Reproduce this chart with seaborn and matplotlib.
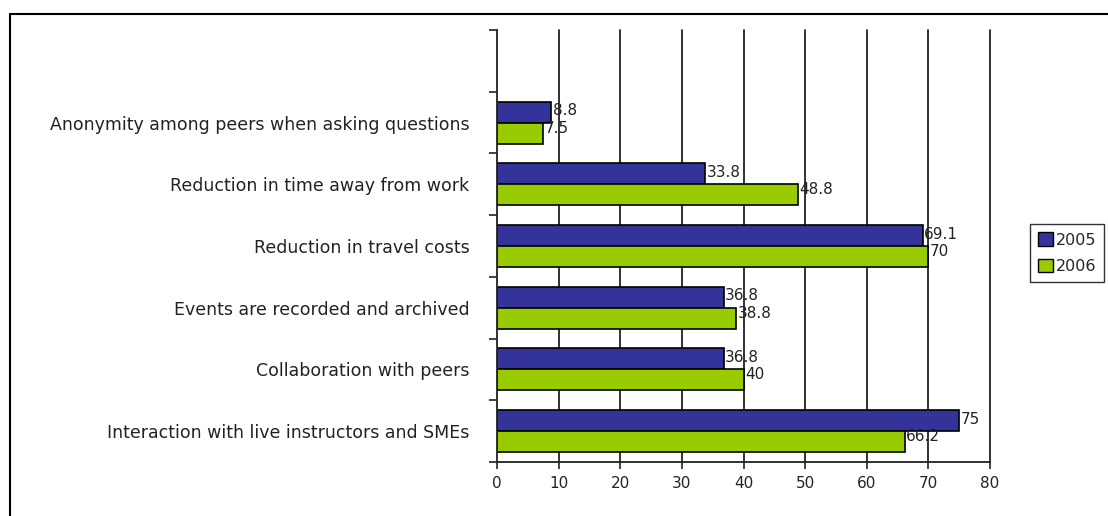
import matplotlib
matplotlib.use('Agg')
import matplotlib.pyplot as plt
import matplotlib.lines as mlines
import matplotlib.patches as mpatches
import pandas as pd
import seaborn as sns

categories = ['Anonymity among peers when asking questions',
              'Reduction in time away from work',
              'Reduction in travel costs',
              'Events are recorded and archived',
              'Collaboration with peers',
              'Interaction with live instructors and SMEs']
values_2005 = [8.8, 33.8, 69.1, 36.8, 36.8, 75]
values_2006 = [7.5, 48.8, 70, 38.8, 40, 66.2]
labels_2005 = ['8.8', '33.8', '69.1', '36.8', '36.8', '75']
labels_2006 = ['7.5', '48.8', '70', '38.8', '40', '66.2']
years = ['2005', '2006']
x_ticks = [0, 10, 20, 30, 40, 50, 60, 70, 80]

df = pd.DataFrame({
    'category': categories * 2,
    'value': values_2005 + values_2006,
    'year': [years[0]] * len(categories) + [years[1]] * len(categories),
})

sns.set_theme(style='white')
plt.rcParams['font.family'] = ['DejaVu Sans']

colors = {'2005': '#333399', '2006': '#99CC00'}
order = [''] + categories

fig = plt.figure(figsize=(11.08, 5.16), dpi=100)
ax = fig.add_axes([0.4486, 0.1047, 0.4449, 0.8372])

sns.barplot(data=df, y='category', x='value', hue='year', order=order,
            hue_order=years, palette=colors, saturation=1, orient='h', width=0.68,
            edgecolor='black', linewidth=1.2, legend=False, ax=ax)

# value labels
bar_h = 0.34
for i, cat in enumerate(categories):
    pos = order.index(cat)
    ax.text(values_2005[i] + 0.2, pos - bar_h / 2 - 0.02, labels_2005[i],
            va='center', ha='left', fontsize=11, color='#222222')
    ax.text(values_2006[i] + 0.2, pos + bar_h / 2 - 0.08, labels_2006[i],
            va='center', ha='left', fontsize=11, color='#222222')

ax.set_xlim(0, 80)
ax.set_ylim(len(order) - 0.5, -0.5)
ax.set_xticks(x_ticks)
ax.set_xticklabels([str(t) for t in x_ticks], fontsize=11, color='#222222')
ax.set_xlabel('')
ax.set_ylabel('')

for x in x_ticks[1:]:
    ax.axvline(x, color='#222222', linewidth=1.3, zorder=0, clip_on=False)

ax.set_yticks(range(len(order)))
ax.set_yticklabels(order, fontsize=12.5, color='#222222')
ax.set_yticks([i - 0.5 for i in range(len(order) + 1)], minor=True)
ax.tick_params(axis='y', which='major', left=False, length=0, pad=20)
ax.tick_params(axis='y', which='minor', left=True, length=6, width=1.2,
               color='#222222', direction='out')
ax.tick_params(axis='x', which='major', length=5, width=1.2, color='#222222',
               direction='out', bottom=True, pad=5)

for side in ['top', 'right']:
    ax.spines[side].set_visible(False)
for side in ['left', 'bottom']:
    ax.spines[side].set_color('#222222')
    ax.spines[side].set_linewidth(1.3)

# legend outside the plot
handles = [mpatches.Patch(facecolor=colors[y], edgecolor='black', label=y) for y in years]
leg = fig.legend(handles=handles, loc='upper left', bbox_to_anchor=(0.93, 0.565),
                 frameon=True, fancybox=False, fontsize=11.5, handlelength=0.9,
                 handleheight=0.9, handletextpad=0.2, borderpad=0.5,
                 labelspacing=0.7, borderaxespad=0)
leg.get_frame().set_edgecolor('black')
leg.get_frame().set_linewidth(1.0)

# outer chart frame
fig.add_artist(mlines.Line2D([0.009, 1.0], [0.9729, 0.9729], color='black', linewidth=1.5))
fig.add_artist(mlines.Line2D([0.009, 0.009], [0.0, 0.9729], color='black', linewidth=1.5))

fig.savefig('out.png', dpi=100)
